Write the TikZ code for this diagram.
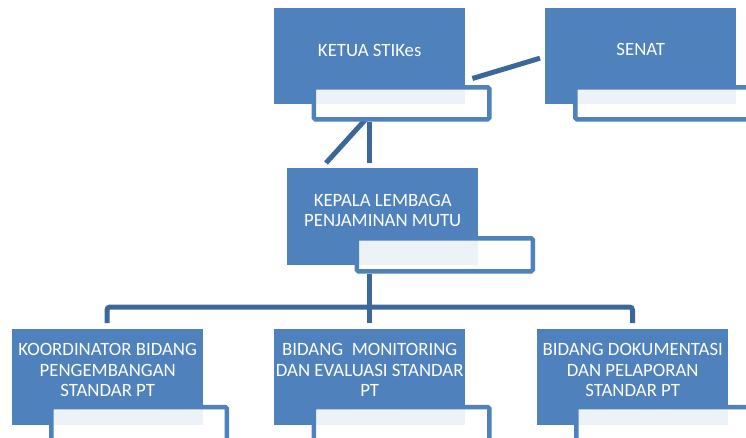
\documentclass[tikz,border=0pt]{standalone}
\usepackage{fontspec}
\setmainfont{Carlito}
\usetikzlibrary{calc,backgrounds}
\definecolor{boxblue}{HTML}{4F81BD}
\definecolor{lineblue}{HTML}{3C679A}
\begin{document}
\begin{tikzpicture}[x=1pt,y=-1pt,
  bluebox/.style={fill=boxblue, draw=none, minimum width=191pt, minimum height=96pt, inner sep=0pt, anchor=north west},
  subbox/.style={draw=boxblue, line width=4.5pt, fill=white, fill opacity=0.9, draw opacity=1, rounded corners=1.5pt, minimum width=175.5pt, minimum height=32pt, inner sep=0pt, anchor=north west},
  conn/.style={draw=lineblue, line width=5pt},
  boxtext/.style={text=white, font=\fontsize{18.8}{20.5}\selectfont, align=center, inner sep=0pt}]
\useasboundingbox (0,0) rectangle (746,437);
\clip (0,0) rectangle (746,437);
% top level
\node[bluebox] (ketua) at (274,8) {};
\node[subbox] (ketuasub) at (311.5,85) {};
\node[boxtext] (ketuatext) at ($(ketua.center)+(0,-6)$) {KETUA STIKes};
\node[bluebox] (senat) at (545,8) {};
\node[subbox] (senatsub) at (573,85) {};
\node[boxtext] (senattext) at ($(senat.center)+(0,-7)$) {SENAT};
% middle
\node[bluebox, minimum height=97pt] (kepala) at (287,168) {};
\node[subbox, minimum width=176pt, minimum height=33pt] (kepalasub) at (354.5,236) {};
\node[boxtext] (kepalatext) at ($(kepala.center)+(0,-6)$) {KEPALA LEMBAGA\\PENJAMINAN MUTU};
% bottom
\node[bluebox] (b1) at (12,329) {};
\node[subbox, minimum height=34pt] (b1sub) at (49,404.8) {};
\node[boxtext] (b1text) at ($(b1.center)+(0,-7)$) {KOORDINATOR BIDANG\\PENGEMBANGAN\\STANDAR PT};
\node[bluebox] (b2) at (274,329) {};
\node[subbox, minimum height=34pt] (b2sub) at (311.5,404.8) {};
\node[boxtext] (b2text) at ($(b2.center)+(0,-7)$) {BIDANG\ \ MONITORING\\DAN EVALUASI STANDAR\\PT};
\node[bluebox] (b3) at (537,329) {};
\node[subbox, minimum height=34pt] (b3sub) at (574,404.8) {};
\node[boxtext] (b3text) at ($(b3.center)+(0,-7)$) {BIDANG DOKUMENTASI\\DAN PELAPORAN\\STANDAR PT};
% connectors
\begin{pgfonlayer}{background}
\draw[conn] ($(ketuasub.south west)+(57.5,0)$) -- ($(kepala.north west)+(82,-5)$);
\draw[conn] ($(ketuasub.south west)+(54,-2)$) -- ($(kepala.north west)+(39,-5)$);
\draw[conn] ($(ketua.north east)+(7,70.5)$) -- ($(senat.west)+(-5,2)$);
\draw[conn] ($(kepalasub.south west)+(14.5,0)$) -- ($(b2.north west)+(95,-6)$);
\draw[conn, rounded corners=3pt] ($(b1.north west)+(95,-6)$) |- ($(kepalasub.south west)+(14.5,33.5)$) -| ($(b3.north west)+(95.5,-6)$);
\end{pgfonlayer}
\end{tikzpicture}
\end{document}
